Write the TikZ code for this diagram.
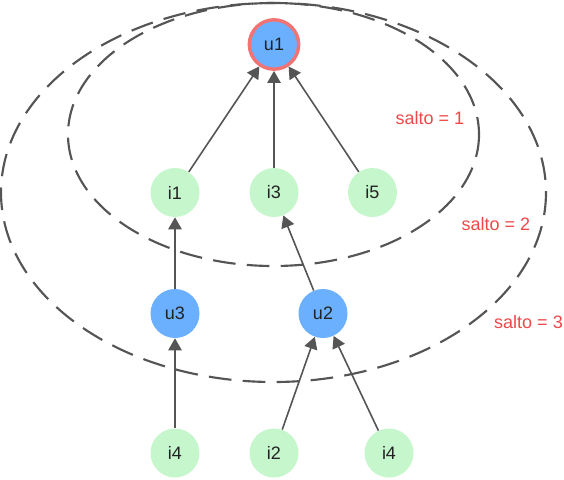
\documentclass[tikz,border=0pt]{standalone}
\usepackage{fontspec}
\setmainfont{Liberation Sans}
\usetikzlibrary{arrows.meta}
\definecolor{ublue}{HTML}{6AB0FF}
\definecolor{igreen}{HTML}{C6F6CC}
\definecolor{ringred}{HTML}{F27373}
\definecolor{labelred}{HTML}{EE4848}
\definecolor{edgegray}{HTML}{555555}
\definecolor{txt}{HTML}{222222}
\tikzset{
  unode/.style={circle, fill=ublue, minimum size=36.75pt, inner sep=0pt,
    font=\fontsize{13.5}{16}\selectfont, text=txt},
  inode/.style={circle, fill=igreen, minimum size=36.75pt, inner sep=0pt,
    font=\fontsize{13.5}{16}\selectfont, text=txt},
  rootring/.style={draw=ringred, line width=2.6pt, minimum size=37pt},
  link/.style={draw=edgegray, line width=1.2pt,
    -{Triangle[length=9pt, width=10pt]}},
  hop/.style={draw=edgegray, line width=1.6pt, dash pattern=on 17pt off 8.5pt},
  hoplabel/.style={text=labelred, font=\fontsize{13.5}{16}\selectfont}
}
\begin{document}
\begin{tikzpicture}[x=0.75pt, y=-0.75pt]
  \useasboundingbox (0,0) rectangle (564,479);

  % hop regions
  \draw[hop] (273.5,134.5) ellipse [x radius=205.5, y radius=131.5];
  \draw[hop] (273.5,192.5) ellipse [x radius=272.5, y radius=189.5];

  % nodes
  \node[unode, rootring] (u1) at (274,44.5) {u1};
  \node[inode] (i1) at (175,192.5) {i1};
  \node[inode] (i3) at (274,192.5) {i3};
  \node[inode] (i5) at (372.5,192.5) {i5};
  \node[unode] (u3) at (175,313.5) {u3};
  \node[unode] (u2) at (323,313.5) {u2};
  \node[inode] (i4a) at (175,453) {i4};
  \node[inode] (i2) at (274,453) {i2};
  \node[inode] (i4b) at (389,453) {i4};

  % links
  \draw[link] (i1) -- (u1);
  \draw[link] (i3) -- (u1);
  \draw[link] (i5) -- (u1);
  \draw[link] (u3) -- (i1);
  \draw[link] (u2) -- (i3);
  \draw[link] (i4a) -- (u3);
  \draw[link] (i2) -- (u2);
  \draw[link] (i4b) -- (u2);

  % hop labels
  \node[hoplabel] (s1) at (429.8,118.5) {salto = 1};
  \node[hoplabel] (s2) at (495.8,224) {salto = 2};
  \node[hoplabel] (s3) at (528.5,322.5) {salto = 3};
\end{tikzpicture}
\end{document}
